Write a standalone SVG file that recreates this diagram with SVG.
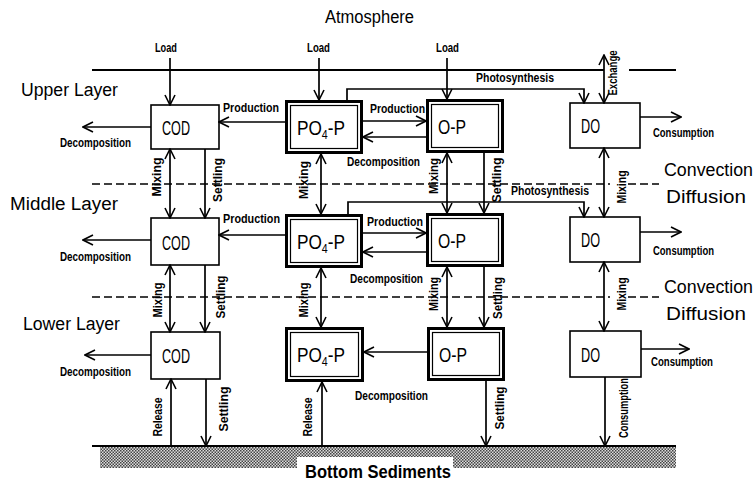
<svg xmlns="http://www.w3.org/2000/svg" width="756" height="481" viewBox="0 0 756 481">
<style>
.bx{fill:#fff;stroke:#000;stroke-width:1.6}
.o{fill:none;stroke:#000;stroke-width:3}
.i{fill:none;stroke:#000;stroke-width:1.2}
.bt{font-family:"Liberation Sans",Arial,sans-serif;font-size:21px;fill:#000}
.lay{font-family:"Liberation Sans",Arial,sans-serif;font-size:18px;fill:#000}
.sm{font-family:"Liberation Sans",Arial,sans-serif;font-size:12px;font-weight:bold;fill:#000}
.c line,.c polyline{fill:none;stroke:#000;stroke-width:1.7}
.e{marker-end:url(#a)}
.d{marker-start:url(#a);marker-end:url(#a)}
.ln{stroke:#000;stroke-width:2;fill:none}
.ds{stroke:#000;stroke-width:1.4;stroke-dasharray:8 4;fill:none}
</style>
<defs>
<marker id="a" viewBox="-12 -7 13 14" refX="0" refY="0" markerWidth="13" markerHeight="14" markerUnits="userSpaceOnUse" orient="auto-start-reverse">
<path d="M-10,-5 L0,0 L-10,5" fill="none" stroke="#000" stroke-width="1.6"/>
</marker>
<pattern id="h" width="3" height="3" patternUnits="userSpaceOnUse">
<rect width="3" height="3" fill="#ddd"/>
<rect width="1.5" height="1.5" fill="#444"/>
<rect x="1.5" y="1.5" width="1.5" height="1.5" fill="#444"/>
</pattern>
</defs>
<rect width="756" height="481" fill="#fff"/>

<!-- environment -->
<g id="environment">
<text class="lay" x="325" y="23" textLength="89" lengthAdjust="spacingAndGlyphs">Atmosphere</text>
<line class="ln" x1="92" y1="70" x2="604" y2="70"/>
<line class="ln" x1="629" y1="70" x2="676" y2="70"/>
<line class="ds" x1="92" y1="184" x2="610" y2="184"/>
<line class="ds" x1="628" y1="184" x2="659" y2="184"/>
<line class="ds" x1="92" y1="297" x2="610" y2="297"/>
<line class="ds" x1="628" y1="297" x2="659" y2="297"/>
<rect x="100" y="447" width="576" height="21" fill="url(#h)"/>
<rect x="297" y="457" width="156" height="24" fill="#fff"/>
<line class="ln" x1="92" y1="446" x2="676" y2="446"/>
<text class="lay" x="305" y="478" textLength="146" lengthAdjust="spacingAndGlyphs" font-weight="bold">Bottom Sediments</text>
<text class="lay" x="21" y="96" textLength="97" lengthAdjust="spacingAndGlyphs">Upper Layer</text>
<text class="lay" x="10" y="210" textLength="108" lengthAdjust="spacingAndGlyphs">Middle Layer</text>
<text class="lay" x="23" y="330" textLength="97" lengthAdjust="spacingAndGlyphs">Lower Layer</text>
<text class="lay" x="664" y="176" textLength="89" lengthAdjust="spacingAndGlyphs">Convection</text>
<text class="lay" x="666" y="203" textLength="80" lengthAdjust="spacingAndGlyphs">Diffusion</text>
<text class="lay" x="664" y="293" textLength="89" lengthAdjust="spacingAndGlyphs">Convection</text>
<text class="lay" x="666" y="320" textLength="80" lengthAdjust="spacingAndGlyphs">Diffusion</text>
</g>

<!-- nodes: upper layer -->
<g id="cod-upper"><rect class="bx" x="151" y="105" width="68" height="44"/><text class="bt" x="162" y="135" textLength="28" lengthAdjust="spacingAndGlyphs">COD</text></g>
<g id="po4-upper"><rect class="o" x="286.5" y="101.5" width="75" height="51"/><rect class="i" x="290.5" y="105.5" width="67" height="43"/><text class="bt" transform="translate(297,135) scale(0.82,1)">PO<tspan font-size="13" dy="4">4</tspan><tspan dy="-4">-P</tspan></text></g>
<g id="op-upper"><rect class="o" x="427.5" y="100.5" width="75" height="51"/><rect class="i" x="431.5" y="104.5" width="67" height="43"/><text class="bt" x="438" y="134" textLength="28" lengthAdjust="spacingAndGlyphs">O-P</text></g>
<g id="do-upper"><rect class="bx" x="570" y="103" width="70" height="45"/><text class="bt" x="581" y="133" textLength="19" lengthAdjust="spacingAndGlyphs">DO</text></g>

<!-- nodes: middle layer -->
<g id="cod-middle"><rect class="bx" x="151" y="218" width="68" height="47"/><text class="bt" x="162" y="250" textLength="28" lengthAdjust="spacingAndGlyphs">COD</text></g>
<g id="po4-middle"><rect class="o" x="286.5" y="215.5" width="75" height="51"/><rect class="i" x="290.5" y="219.5" width="67" height="43"/><text class="bt" transform="translate(297,249) scale(0.82,1)">PO<tspan font-size="13" dy="4">4</tspan><tspan dy="-4">-P</tspan></text></g>
<g id="op-middle"><rect class="o" x="427.5" y="214.5" width="75" height="51"/><rect class="i" x="431.5" y="218.5" width="67" height="43"/><text class="bt" x="438" y="248" textLength="28" lengthAdjust="spacingAndGlyphs">O-P</text></g>
<g id="do-middle"><rect class="bx" x="570" y="217" width="70" height="45"/><text class="bt" x="581" y="247" textLength="19" lengthAdjust="spacingAndGlyphs">DO</text></g>

<!-- nodes: lower layer -->
<g id="cod-lower"><rect class="bx" x="151" y="332" width="69" height="47"/><text class="bt" x="162" y="363" textLength="28" lengthAdjust="spacingAndGlyphs">COD</text></g>
<g id="po4-lower"><rect class="o" x="286.5" y="328.5" width="76" height="52"/><rect class="i" x="290.5" y="332.5" width="68" height="44"/><text class="bt" transform="translate(297,362) scale(0.82,1)">PO<tspan font-size="13" dy="4">4</tspan><tspan dy="-4">-P</tspan></text></g>
<g id="op-lower"><rect class="o" x="428.5" y="328.5" width="75" height="51"/><rect class="i" x="432.5" y="332.5" width="67" height="43"/><text class="bt" x="439" y="362" textLength="28" lengthAdjust="spacingAndGlyphs">O-P</text></g>
<g id="do-lower"><rect class="bx" x="570" y="331" width="71" height="46"/><text class="bt" x="581" y="362" textLength="19" lengthAdjust="spacingAndGlyphs">DO</text></g>

<!-- connectors -->
<g id="connectors" class="c">
<line class="e" x1="170" y1="58" x2="170" y2="105"/>
<line class="e" x1="319" y1="58" x2="319" y2="100"/>
<line class="e" x1="447" y1="58" x2="447" y2="99"/>
<line class="d" x1="604" y1="55" x2="604" y2="103"/>
<polyline class="e" points="347,100 347,89 584,89 584,103"/>
<line class="e" x1="285" y1="122" x2="219" y2="122"/>
<line class="e" x1="363" y1="121" x2="426" y2="121"/>
<line class="e" x1="426" y1="137" x2="363" y2="137"/>
<line class="e" x1="151" y1="127" x2="83" y2="127"/>
<line class="e" x1="640" y1="117" x2="681" y2="117"/>

<line class="d" x1="170" y1="149" x2="170" y2="218"/>
<line class="e" x1="205" y1="149" x2="205" y2="218"/>
<line class="d" x1="321" y1="154" x2="321" y2="214"/>
<line class="d" x1="447" y1="153" x2="447" y2="213"/>
<line class="e" x1="484" y1="153" x2="484" y2="213"/>
<line class="d" x1="604" y1="148" x2="604" y2="217"/>

<polyline class="e" points="348,214 348,202 584,202 584,217"/>
<line class="e" x1="285" y1="235" x2="219" y2="235"/>
<line class="e" x1="363" y1="233" x2="426" y2="233"/>
<line class="e" x1="426" y1="252" x2="363" y2="252"/>
<line class="e" x1="151" y1="240" x2="83" y2="240"/>
<line class="e" x1="640" y1="232" x2="681" y2="232"/>

<line class="d" x1="170" y1="265" x2="170" y2="332"/>
<line class="e" x1="205" y1="265" x2="205" y2="332"/>
<line class="d" x1="321" y1="268" x2="321" y2="327"/>
<line class="d" x1="447" y1="267" x2="447" y2="327"/>
<line class="e" x1="484" y1="267" x2="484" y2="327"/>
<line class="d" x1="604" y1="262" x2="604" y2="331"/>

<line class="e" x1="151" y1="355" x2="85" y2="355"/>
<line class="e" x1="427" y1="352" x2="364" y2="352"/>
<line class="e" x1="641" y1="349" x2="689" y2="349"/>
<line class="e" x1="171" y1="446" x2="171" y2="379"/>
<line class="e" x1="206" y1="379" x2="206" y2="446"/>
<line class="e" x1="322" y1="446" x2="322" y2="382"/>
<line class="e" x1="486" y1="381" x2="486" y2="446"/>
<line class="e" x1="605" y1="377" x2="605" y2="446"/>
</g>

<!-- connector labels -->
<g id="labels">
<text class="sm" x="155" y="52" textLength="22" lengthAdjust="spacingAndGlyphs">Load</text>
<text class="sm" x="307" y="52" textLength="23" lengthAdjust="spacingAndGlyphs">Load</text>
<text class="sm" x="436" y="52" textLength="23" lengthAdjust="spacingAndGlyphs">Load</text>
<text class="sm" text-anchor="middle" transform="translate(617,73) rotate(-90)" textLength="45" lengthAdjust="spacingAndGlyphs">Exchange</text>
<text class="sm" x="476" y="82" textLength="78" lengthAdjust="spacingAndGlyphs">Photosynthesis</text>
<text class="sm" x="223" y="112" textLength="56" lengthAdjust="spacingAndGlyphs">Production</text>
<text class="sm" x="370" y="113" textLength="55" lengthAdjust="spacingAndGlyphs">Production</text>
<text class="sm" x="60" y="147" textLength="71" lengthAdjust="spacingAndGlyphs">Decomposition</text>
<text class="sm" x="347" y="166" textLength="73" lengthAdjust="spacingAndGlyphs">Decomposition</text>
<text class="sm" x="653" y="137" textLength="61" lengthAdjust="spacingAndGlyphs">Consumption</text>

<text class="sm" text-anchor="middle" transform="translate(161,177) rotate(-90)" textLength="39" lengthAdjust="spacingAndGlyphs">Mixing</text>
<text class="sm" text-anchor="middle" transform="translate(222,180) rotate(-90)" textLength="44" lengthAdjust="spacingAndGlyphs">Settling</text>
<text class="sm" text-anchor="middle" transform="translate(308,180) rotate(-90)" textLength="38" lengthAdjust="spacingAndGlyphs">Mixing</text>
<text class="sm" text-anchor="middle" transform="translate(438,176) rotate(-90)" textLength="36" lengthAdjust="spacingAndGlyphs">Mixing</text>
<text class="sm" text-anchor="middle" transform="translate(501,180) rotate(-90)" textLength="45" lengthAdjust="spacingAndGlyphs">Settling</text>
<text class="sm" text-anchor="middle" transform="translate(626,187) rotate(-90)" textLength="33" lengthAdjust="spacingAndGlyphs">Mixing</text>

<text class="sm" x="223" y="223" textLength="57" lengthAdjust="spacingAndGlyphs">Production</text>
<text class="sm" x="367" y="226" textLength="56" lengthAdjust="spacingAndGlyphs">Production</text>
<text class="sm" x="511" y="195" textLength="78" lengthAdjust="spacingAndGlyphs">Photosynthesis</text>
<text class="sm" x="60" y="261" textLength="71" lengthAdjust="spacingAndGlyphs">Decomposition</text>
<text class="sm" x="350" y="283" textLength="73" lengthAdjust="spacingAndGlyphs">Decomposition</text>
<text class="sm" x="653" y="255" textLength="61" lengthAdjust="spacingAndGlyphs">Consumption</text>

<text class="sm" text-anchor="middle" transform="translate(162,300) rotate(-90)" textLength="35" lengthAdjust="spacingAndGlyphs">Mixing</text>
<text class="sm" text-anchor="middle" transform="translate(225,297) rotate(-90)" textLength="43" lengthAdjust="spacingAndGlyphs">Settling</text>
<text class="sm" text-anchor="middle" transform="translate(308,300) rotate(-90)" textLength="35" lengthAdjust="spacingAndGlyphs">Mixing</text>
<text class="sm" text-anchor="middle" transform="translate(438,294) rotate(-90)" textLength="34" lengthAdjust="spacingAndGlyphs">Mixing</text>
<text class="sm" text-anchor="middle" transform="translate(502,298) rotate(-90)" textLength="42" lengthAdjust="spacingAndGlyphs">Settling</text>
<text class="sm" text-anchor="middle" transform="translate(626,294) rotate(-90)" textLength="33" lengthAdjust="spacingAndGlyphs">Mixing</text>

<text class="sm" x="60" y="376" textLength="71" lengthAdjust="spacingAndGlyphs">Decomposition</text>
<text class="sm" x="355" y="400" textLength="73" lengthAdjust="spacingAndGlyphs">Decomposition</text>
<text class="sm" x="651" y="366" textLength="62" lengthAdjust="spacingAndGlyphs">Consumption</text>
<text class="sm" text-anchor="middle" transform="translate(162,417) rotate(-90)" textLength="39" lengthAdjust="spacingAndGlyphs">Release</text>
<text class="sm" text-anchor="middle" transform="translate(228,409) rotate(-90)" textLength="45" lengthAdjust="spacingAndGlyphs">Settling</text>
<text class="sm" text-anchor="middle" transform="translate(312,417) rotate(-90)" textLength="39" lengthAdjust="spacingAndGlyphs">Release</text>
<text class="sm" text-anchor="middle" transform="translate(504,408) rotate(-90)" textLength="43" lengthAdjust="spacingAndGlyphs">Settling</text>
<text class="sm" text-anchor="middle" transform="translate(628,408) rotate(-90)" textLength="60" lengthAdjust="spacingAndGlyphs">Consumption</text>
</g>
</svg>
